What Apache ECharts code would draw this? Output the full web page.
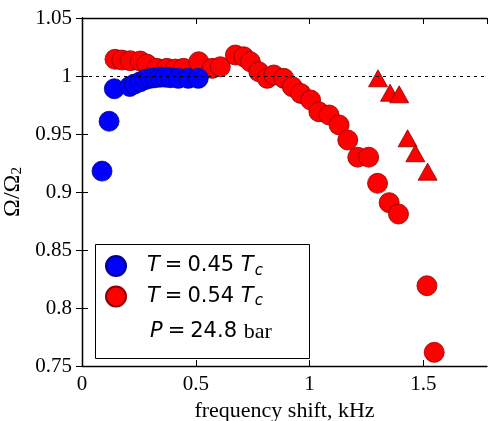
<html>
<head>
<meta charset="UTF-8">
<title>Omega ratio vs frequency shift</title>
<script src="https://cdn.jsdelivr.net/npm/echarts@6/dist/echarts.min.js"></script>
<style>html,body,#container{width:100%;height:100%;margin:0;padding:0;background:#fff;}</style>
</head>
<body>
<div id="container"></div>
<script>
// T = 0.45 Tc (blue circles)
var blueX = [0.088, 0.119, 0.142, 0.21, 0.23, 0.256, 0.278, 0.30, 0.322, 0.344, 0.366, 0.388, 0.423, 0.467, 0.511];
var blueY = [0.918, 0.961, 0.989, 0.991, 0.993, 0.995, 0.997, 0.998, 0.9985, 0.999, 0.999, 0.9985, 0.998, 0.998, 0.998];
// T = 0.54 Tc (red circles)
var redX = [0.145, 0.175, 0.212, 0.256, 0.285, 0.329, 0.373, 0.41, 0.446, 0.513, 0.572, 0.608, 0.674, 0.711, 0.740, 0.777, 0.814,
            0.843, 0.887, 0.924, 0.961, 1.005, 1.041, 1.086, 1.130, 1.168, 1.212, 1.260, 1.299, 1.350, 1.391, 1.516, 1.548];
var redY = [1.0144, 1.0138, 1.0132, 1.0129, 1.0103, 1.0066, 1.0066, 1.006, 1.0066, 1.0123, 1.0066, 1.008, 1.0181, 1.0166, 1.0123, 1.0037, 0.998,
            1.0009, 0.998, 0.9908, 0.985, 0.9793, 0.9692, 0.9664, 0.9578, 0.9448, 0.930, 0.930, 0.9075, 0.8908, 0.881, 0.8192, 0.7618];
// red triangles
var triX = [1.301, 1.354, 1.394, 1.431, 1.465, 1.519];
var triY = [0.998, 0.9856, 0.9842, 0.9463, 0.9334, 0.9175];

var xTicks = [0, 0.5, 1, 1.5];

function pairs(xs, ys) {
  return xs.map(function (x, i) { return [x, ys[i]]; });
}

var serif = 'Liberation Serif';
var sans = 'DejaVu Sans';

var myChart = echarts.init(document.getElementById('container'));

var axisCommon = {
  axisLine: { show: true, lineStyle: { color: '#000', width: 1.3 } },
  axisTick: { show: true, inside: true, length: 6, lineStyle: { color: '#000', width: 1 } },
  splitLine: { show: false }
};

var mathRich = {
  i: { fontFamily: sans, fontStyle: 'italic', fontSize: 21, fill: '#000', color: '#000' },
  e: { fontFamily: sans, fontSize: 21, padding: [0, 5], fill: '#000', color: '#000' },
  s: { fontFamily: sans, fontStyle: 'italic', fontSize: 15, verticalAlign: 'bottom', padding: [10, 0, 0, 1], color: '#000' },
  b: { fontFamily: serif, fontSize: 22, fill: '#000', color: '#000' }
};

myChart.setOption({
  animation: false,
  grid: { left: 82, right: 3, top: 18, bottom: 55, outerBoundsMode: 'none', containLabel: false },
  xAxis: [
    Object.assign({
      type: 'value', min: 0, max: 1.78, interval: 0.5, position: 'bottom',
      name: 'frequency shift, kHz', nameLocation: 'middle', nameGap: 30,
      nameTextStyle: { fontFamily: serif, fontSize: 22, color: '#000' },
      axisLabel: {
        fontFamily: serif, fontSize: 21, color: '#000', margin: 8, showMaxLabel: false,
        formatter: function (v) { return xTicks.indexOf(v) >= 0 ? String(v) : ''; }
      }
    }, axisCommon),
    Object.assign({
      type: 'value', min: 0, max: 1.78, interval: 0.5, position: 'top',
      axisLabel: { show: false }
    }, axisCommon)
  ],
  yAxis: [
    Object.assign({
      type: 'value', min: 0.75, max: 1.05, interval: 0.05, position: 'left',
      name: 'Ω/Ω{s|2}', nameLocation: 'middle', nameGap: 50, nameRotate: 90,
      nameTextStyle: {
        fontFamily: serif, fontSize: 24, color: '#000',
        rich: { s: { fontFamily: serif, fontSize: 15, verticalAlign: 'bottom', padding: [8, 0, 0, 0] } }
      },
      axisLabel: {
        fontFamily: serif, fontSize: 21, color: '#000', margin: 10,
        formatter: function (v) { return String(Math.round(v * 100) / 100); }
      }
    }, axisCommon),
    Object.assign({
      type: 'value', min: 0.75, max: 1.05, interval: 0.05, position: 'right',
      axisLabel: { show: false }
    }, axisCommon)
  ],
  legend: {
    left: 100, top: 250, orient: 'vertical',
    itemWidth: 20, itemHeight: 20, itemGap: 7,
    data: [
      { name: 'T045', icon: 'circle' },
      { name: 'T054', icon: 'circle' }
    ],
    textStyle: {
      fontFamily: sans, fontSize: 21, color: '#000', padding: [0, 0, 0, 16],
      rich: mathRich
    },
    formatter: function (name) {
      return name === 'T045' ? '{i|T}{e|=}0.45 {i|T}{s|c}' : '{i|T}{e|=}0.54 {i|T}{s|c}';
    }
  },
  graphic: [
    { type: 'rect', left: 93, top: 242, shape: { width: 214, height: 114 },
      style: { fill: 'none', stroke: '#000', lineWidth: 1 }, z: 100 },
    { type: 'text', left: 150, top: 321, z: 101,
      style: {
        text: '{i|P}{e|=}24.8 {b|bar}',
        rich: mathRich,
        fontFamily: sans, fontSize: 21, fill: '#000'
      }
    }
  ],
  series: [
    {
      name: 'T054', type: 'scatter', data: pairs(redX, redY),
      symbol: 'circle', symbolSize: 20,
      itemStyle: { color: '#ff0000', borderColor: '#8b0000', borderWidth: 0.8, opacity: 1 },
      markLine: {
        silent: true, symbol: 'none', label: { show: false },
        lineStyle: { color: '#000', type: [3, 4], width: 1.2 },
        data: [{ yAxis: 1 }]
      }
    },
    {
      name: 'T054tri', type: 'scatter', data: pairs(triX, triY),
      symbol: 'triangle', symbolSize: [19, 17],
      itemStyle: { color: '#ff0000', borderColor: '#8b0000', borderWidth: 0.8, opacity: 1 }
    },
    {
      name: 'T045', type: 'scatter', data: pairs(blueX, blueY),
      symbol: 'circle', symbolSize: 20,
      itemStyle: { color: '#0000ff', borderColor: '#00008b', borderWidth: 0.8, opacity: 1 }
    }
  ]
});

window.onresize = function () {
  myChart.resize();
};
</script>
</body>
</html>
